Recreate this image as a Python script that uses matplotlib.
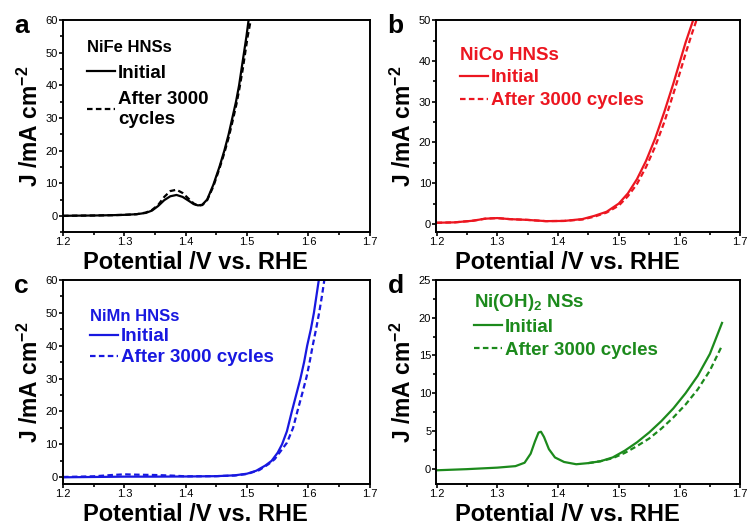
import matplotlib
matplotlib.use("Agg")
from matplotlib import pyplot as plt
from matplotlib.ticker import MultipleLocator
import numpy as np

plt.rcParams['font.family'] = ['Liberation Sans', 'DejaVu Sans']
plt.rcParams['mathtext.fontset'] = 'custom'
plt.rcParams['mathtext.rm'] = 'Liberation Sans:bold'
plt.rcParams['mathtext.bf'] = 'Liberation Sans:bold'
plt.rcParams['mathtext.it'] = 'Liberation Sans:bold'

# ---- data (potential V vs RHE, current mA cm-2) ----
# a: NiFe HNSs
a_init_v = [1.20, 1.22, 1.25, 1.28, 1.30, 1.32, 1.335, 1.345, 1.355, 1.365, 1.375, 1.385,
            1.395, 1.405, 1.413, 1.42, 1.427, 1.435, 1.445, 1.455, 1.463, 1.47, 1.476,
            1.482, 1.487, 1.491, 1.495, 1.499, 1.5025]
a_init_j = [0.0, 0.05, 0.1, 0.2, 0.3, 0.5, 0.9, 1.6, 3.0, 4.8, 6.0, 6.4,
            5.8, 4.6, 3.6, 3.2, 3.4, 5.0, 9.5, 15.0, 20.0, 25.0, 30.0,
            35.0, 40.0, 45.0, 50.0, 55.0, 60.0]
a_cyc_v = [1.20, 1.22, 1.25, 1.28, 1.30, 1.32, 1.335, 1.345, 1.355, 1.365, 1.375, 1.385,
           1.395, 1.405, 1.413, 1.42, 1.427, 1.435, 1.445, 1.455, 1.463, 1.47, 1.477,
           1.483, 1.488, 1.493, 1.497, 1.501, 1.506]
a_cyc_j = [0.0, 0.05, 0.1, 0.2, 0.3, 0.5, 1.0, 1.8, 3.3, 5.8, 7.6, 8.0,
           7.0, 5.2, 3.8, 3.1, 3.3, 4.8, 9.0, 14.5, 19.3, 24.0, 29.5,
           34.5, 39.5, 45.0, 50.0, 55.0, 60.0]

# b: NiCo HNSs
b_init_v = [1.20, 1.23, 1.26, 1.28, 1.30, 1.32, 1.35, 1.38, 1.41, 1.44, 1.46, 1.48,
            1.50, 1.515, 1.53, 1.545, 1.56, 1.575, 1.59, 1.60, 1.61, 1.6225]
b_init_j = [0.3, 0.4, 0.8, 1.3, 1.45, 1.2, 1.0, 0.7, 0.75, 1.2, 2.0, 3.0,
            5.0, 7.5, 11.0, 15.5, 21.0, 27.5, 34.5, 39.5, 44.5, 50.0]
b_cyc_v = [1.20, 1.23, 1.26, 1.28, 1.30, 1.32, 1.35, 1.38, 1.41, 1.44, 1.46, 1.48,
           1.50, 1.515, 1.53, 1.545, 1.56, 1.575, 1.59, 1.60, 1.61, 1.62, 1.628]
b_cyc_j = [0.3, 0.4, 0.8, 1.3, 1.45, 1.2, 1.0, 0.7, 0.75, 1.1, 1.8, 2.8,
           4.5, 6.8, 9.8, 14.0, 19.0, 25.0, 32.0, 36.8, 41.8, 46.5, 50.0]

# c: NiMn HNSs
c_init_v = [1.20, 1.25, 1.30, 1.35, 1.40, 1.45, 1.48, 1.50, 1.515, 1.53, 1.54, 1.55,
            1.557, 1.565, 1.573, 1.58, 1.587, 1.593, 1.598, 1.604, 1.609, 1.613, 1.617]
c_init_j = [0.0, 0.1, 0.2, 0.2, 0.25, 0.35, 0.6, 1.1, 2.0, 3.6, 5.0, 7.5,
            10.0, 14.0, 20.0, 25.0, 30.0, 35.0, 40.0, 45.0, 50.0, 55.0, 60.0]
c_cyc_v = [1.20, 1.25, 1.28, 1.30, 1.32, 1.35, 1.38, 1.40, 1.45, 1.48, 1.50, 1.52,
           1.535, 1.545, 1.555, 1.565, 1.575, 1.582, 1.59, 1.597, 1.602, 1.607, 1.613,
           1.618, 1.622, 1.626]
c_cyc_j = [0.1, 0.3, 0.7, 0.9, 0.8, 0.7, 0.5, 0.3, 0.35, 0.55, 1.0, 2.2,
           4.0, 5.5, 8.0, 10.5, 15.0, 20.0, 25.5, 30.5, 35.0, 40.0, 45.5,
           50.5, 55.0, 60.0]

# d: Ni(OH)2 NSs
d_init_v = [1.20, 1.25, 1.30, 1.33, 1.345, 1.355, 1.362, 1.368, 1.372, 1.377, 1.385, 1.395,
            1.41, 1.43, 1.45, 1.47, 1.49, 1.51, 1.53, 1.55, 1.57, 1.59, 1.61, 1.63,
            1.65, 1.67]
d_init_j = [-0.2, -0.05, 0.15, 0.35, 0.8, 2.0, 3.6, 4.8, 4.9, 4.2, 2.6, 1.5,
            0.9, 0.6, 0.75, 1.0, 1.5, 2.4, 3.5, 4.8, 6.3, 8.0, 10.0, 12.3,
            15.2, 19.3]
d_cyc_v = [1.45, 1.47, 1.49, 1.51, 1.53, 1.55, 1.57, 1.59, 1.61, 1.63, 1.65, 1.67]
d_cyc_j = [0.75, 1.0, 1.4, 2.1, 3.0, 4.0, 5.3, 6.8, 8.5, 10.5, 13.0, 16.3]

panels = [
    # letter, title, colour, curves, ylim, major, minor, axes rect,
    # legend anchor, 2nd label, title size, line spacing
    ('a', 'NiFe HNSs', 'black', (a_init_v, a_init_j, a_cyc_v, a_cyc_j),
     (-5, 60), 10, 5, [0.084, 0.562, 0.409, 0.400], (0.078, 0.905),
     'After 3000\ncycles', 12, 0.5),
    ('b', 'NiCo HNSs', '#ec1620', (b_init_v, b_init_j, b_cyc_v, b_cyc_j),
     (-2, 50), 10, 5, [0.582, 0.562, 0.405, 0.400], (0.076, 0.875),
     'After 3000 cycles', 13.5, 0.3),
    ('c', 'NiMn HNSs', '#1818e0', (c_init_v, c_init_j, c_cyc_v, c_cyc_j),
     (-2, 60), 10, 5, [0.084, 0.087, 0.409, 0.385], (0.088, 0.855),
     'After 3000 cycles', 12, 0.2),
    ('d', r'Ni(OH)$_{\mathbf{2}}$ NSs', '#1c8a1c', (d_init_v, d_init_j, d_cyc_v, d_cyc_j),
     (-2, 25), 5, 2.5, [0.582, 0.087, 0.405, 0.385], (0.124, 0.94),
     'After 3000 cycles', 13.5, 0.3),
]

fig = plt.figure(figsize=(7.5, 5.3), dpi=100)

for (letter, title, col, (v1, j1, v2, j2), ylim, major, minor, rect,
     anchor, lab2, tsize, lsp) in panels:
    ax = fig.add_axes(rect)
    ax.plot(v1, j1, color=col, lw=1.6, label='Initial')
    ax.plot(v2, j2, color=col, lw=1.6, ls=(0, (2.5, 1.5)), label=lab2)
    ax.set_xlim(1.2, 1.7)
    ax.set_ylim(*ylim)
    ax.xaxis.set_major_locator(MultipleLocator(0.1))
    ax.xaxis.set_minor_locator(MultipleLocator(0.05))
    ax.yaxis.set_major_locator(MultipleLocator(major))
    ax.yaxis.set_minor_locator(MultipleLocator(minor))
    ax.tick_params(which='both', direction='out', width=1.2, labelsize=8, pad=0.8)
    ax.tick_params(which='major', length=3)
    ax.tick_params(which='minor', length=2)
    for s in ax.spines.values():
        s.set_linewidth(1.4)
    ax.set_xlabel('Potential /V vs. RHE', fontsize=17, fontweight='bold')
    # place label top ~19 px under the bottom spine
    ax.xaxis.set_label_coords(0.43, -19.0 / (rect[3] * 530))
    ax.set_ylabel(r'J /mA cm$^{\mathbf{-2}}$', fontsize=16.5, fontweight='bold', labelpad=2)
    leg = ax.legend(loc='upper left', bbox_to_anchor=anchor, frameon=False,
                    title=title, alignment='left', fontsize=13.5,
                    title_fontproperties={'weight': 'bold', 'size': tsize},
                    handlelength=1.5, handletextpad=0.15, labelspacing=lsp,
                    borderpad=0, borderaxespad=0, labelcolor=col)
    leg.get_title().set_color(col)
    for t in leg.get_texts():
        t.set_fontweight('bold')
    ax.text(-0.135, 1.0 - 13.0 / (rect[3] * 530), letter, transform=ax.transAxes,
            fontsize=19, fontweight='bold', va='baseline', ha='center')

fig.savefig('out.png', dpi=100)
